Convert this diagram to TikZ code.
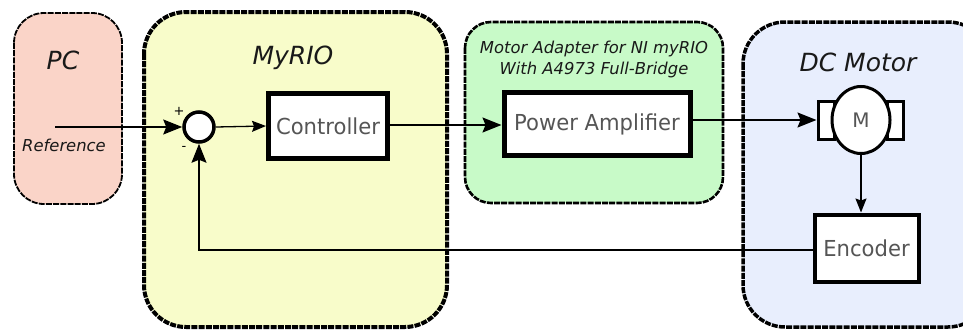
\documentclass[tikz,border=0pt]{standalone}
\usepackage{fontspec}
\setmainfont{DejaVu Sans}
\newfontfamily\blockfont[FakeStretch=0.96]{DejaVu Sans}
\usetikzlibrary{arrows.meta,shapes.geometric}
\definecolor{pcfill}{RGB}{250,212,200}
\definecolor{riofill}{RGB}{248,252,202}
\definecolor{ampfill}{RGB}{200,250,200}
\definecolor{motfill}{RGB}{232,238,253}
\definecolor{boxtext}{RGB}{85,85,85}
\definecolor{grptext}{RGB}{25,25,25}
\begin{document}
\begin{tikzpicture}[x=1pt,y=-1pt,
  group/.style={draw=black,dash pattern=on 6pt off 1.2pt,rounded corners=#1},
  blockbox/.style={draw=black,line width=5pt,fill=white,inner sep=0pt,text=boxtext,font=\blockfont\fontsize{22}{24}\selectfont},
  grplabel/.style={font=\fontsize{25}{28}\selectfont\itshape,text=grptext},
  sublabel/.style={font=\fontsize{16.4}{22}\selectfont\itshape,text=grptext,align=center},
  conn/.style={line width=1.8pt,-{Stealth[length=19pt,width=15pt,inset=3pt]}},
  thinconn/.style={line width=1.3pt,-{Stealth[length=14pt,width=11pt,inset=2pt]}},
]
\useasboundingbox (0,0) rectangle (963,332);
\clip (0,0) rectangle (963,332);
% group boxes
\draw[group=30pt,fill=pcfill,line width=1.8pt] (14,13) rectangle (122,204);
\draw[group=42pt,fill=riofill,line width=4pt] (144,12) rectangle (447,327);
\draw[group=26pt,fill=ampfill,line width=2.6pt] (465,22) rectangle (723,203);
\draw[group=42pt,fill=motfill,line width=3.5pt] (743,22) rectangle (990,327);
% group labels
\node[grplabel] (pclbl) at (63,60) {PC};
\node[font=\fontsize{16.4}{20}\selectfont\itshape,text=grptext] (reflbl) at (64,145) {Reference};
\node[grplabel] (riolbl) at (293,58) {MyRIO};
\node[sublabel] (amplbl) at (594,59) {Motor Adapter for NI myRIO\\[-1pt]With A4973 Full-Bridge};
\node[grplabel] (motlbl) at (858,62) {DC Motor};
% blocks
\node[draw=black,line width=3.5pt,circle,fill=white,minimum size=30pt,inner sep=0pt] (sum) at (199,127) {};
\node[blockbox,minimum width=119pt,minimum height=65pt] (ctrl) at (328,126) {Controller};
\node[blockbox,minimum width=186pt,minimum height=63pt] (pa) at (597,124) {Power Amplifier};
\node[blockbox,line width=4pt,minimum width=104pt,minimum height=67pt] (enc) at (866.5,248) {Encoder};
% motor
\node[draw=black,line width=3pt,fill=white,minimum width=16pt,minimum height=38pt,inner sep=0pt] (motl) at (826,120) {};
\node[draw=black,line width=3pt,fill=white,minimum width=16pt,minimum height=38pt,inner sep=0pt] (motr) at (895,120) {};
\node[draw=black,line width=3pt,ellipse,fill=white,minimum width=58pt,minimum height=67pt,inner sep=0pt,text=boxtext,font=\fontsize{20}{22}\selectfont] (motor) at (861,120) {M};
% signs
\node[font=\fontsize{13}{13}\selectfont] (plus) at (179,111) {+};
\node[font=\fontsize{13}{13}\selectfont] (minus) at (184,148) {-};
% connectors
\coordinate (refstart) at (55,127);
\draw[conn] (refstart) -- (sum.west);
\draw[thinconn] (sum.east) -- (ctrl.west);
\draw[line width=1.5pt,-{Stealth[length=19pt,width=15pt,inset=3pt]}] (ctrl.east |- 0,125) -- (pa.west |- 0,125);
\draw[conn] (pa.east |- motl.west) -- (motl.west);
\draw[thinconn] (motor.south) -- (motor.south |- enc.north);
\draw[line width=1.5pt,-{Stealth[length=19pt,width=15pt,inset=3pt]}] (enc.west |- 0,250) -| (sum.south);
\end{tikzpicture}
\end{document}
